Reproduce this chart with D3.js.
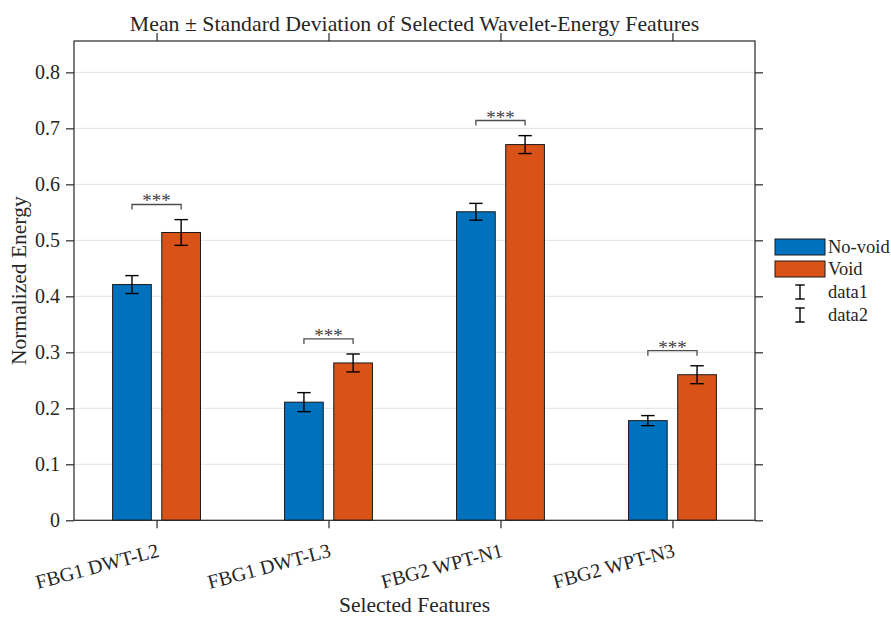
<!DOCTYPE html>
<html>
<head>
<meta charset="utf-8">
<script src="https://cdn.jsdelivr.net/npm/d3@7/dist/d3.min.js"></script>
<style>
  html, body { margin: 0; padding: 0; background: #fff; }
  svg { display: block; }
  text { font-family: "Liberation Serif", "Times New Roman", serif; fill: #262626; }
</style>
</head>
<body>
<svg id="chart" width="891" height="617"></svg>
<script>
// Feature groups and per-class statistics
const categories = ["FBG1 DWT-L2", "FBG1 DWT-L3", "FBG2 WPT-N1", "FBG2 WPT-N3"];
const seriesNames = ["No-void", "Void"];
const noVoidMean = [0.421, 0.211, 0.551, 0.178];
const noVoidStd  = [0.016, 0.017, 0.015, 0.009];
const voidMean   = [0.514, 0.281, 0.671, 0.260];
const voidStd    = [0.023, 0.016, 0.016, 0.016];
const significance = ["***", "***", "***", "***"];
const yTicks = [0, 0.1, 0.2, 0.3, 0.4, 0.5, 0.6, 0.7, 0.8];
const colors = ["#0072BD", "#D95319"];

const svg = d3.select("#chart");
const plotL = 74, plotR = 755, plotT = 41, plotB = 520.3;

const x = d3.scaleLinear().domain([0.52, 4.48]).range([plotL, plotR]);
const y = d3.scaleLinear().domain([0, 0.856]).range([plotB, plotT]);

const axisColor = "#262626";
const serif = "'Liberation Serif', 'Times New Roman', serif";

// horizontal grid
svg.append("g").selectAll("line")
  .data(yTicks.filter(d => d > 0))
  .join("line")
  .attr("x1", plotL).attr("x2", plotR)
  .attr("y1", d => y(d)).attr("y2", d => y(d))
  .attr("stroke", "#e3e3e3").attr("stroke-width", 1);

// bars
const groups = [noVoidMean, voidMean];
const stds = [noVoidStd, voidStd];
const offsets = [-0.143, 0.143];
const barW = 0.225;

groups.forEach((vals, s) => {
  svg.append("g").selectAll("rect")
    .data(vals)
    .join("rect")
    .attr("x", (d, i) => x(i + 1 + offsets[s] - barW / 2))
    .attr("width", x(barW) - x(0))
    .attr("y", d => y(d))
    .attr("height", d => y(0) - y(d))
    .attr("fill", colors[s])
    .attr("stroke", "#1a1a1a")
    .attr("stroke-width", 1);
});

// error bars
const cap = 6.7;
groups.forEach((vals, s) => {
  const g = svg.append("g").attr("stroke", "#000").attr("stroke-width", 1.4);
  vals.forEach((m, i) => {
    const cx = x(i + 1 + offsets[s]);
    const sd = stds[s][i];
    g.append("line").attr("x1", cx).attr("x2", cx).attr("y1", y(m - sd)).attr("y2", y(m + sd));
    g.append("line").attr("x1", cx - cap).attr("x2", cx + cap).attr("y1", y(m + sd)).attr("y2", y(m + sd));
    g.append("line").attr("x1", cx - cap).attr("x2", cx + cap).attr("y1", y(m - sd)).attr("y2", y(m - sd));
  });
});

// significance brackets
const sigG = svg.append("g");
categories.forEach((c, i) => {
  const topVal = Math.max(noVoidMean[i] + noVoidStd[i], voidMean[i] + voidStd[i]) + 0.027;
  const yb = y(topVal);
  const x1 = x(i + 1 + offsets[0]), x2 = x(i + 1 + offsets[1]);
  sigG.append("path")
    .attr("d", `M${x1},${yb + 5}V${yb}H${x2}V${yb + 5}`)
    .attr("fill", "none").attr("stroke", "#4d4d4d").attr("stroke-width", 1.3);
  sigG.append("text")
    .attr("x", (x1 + x2) / 2).attr("y", yb + 3)
    .attr("text-anchor", "middle")
    .attr("font-size", 19).style("fill", "#404040")
    .text(significance[i]);
});

// axes box
const box = svg.append("g").attr("stroke", axisColor).attr("stroke-width", 1.2).attr("fill", "none");
box.append("rect").attr("x", plotL).attr("y", plotT).attr("width", plotR - plotL).attr("height", plotB - plotT);

// y ticks (left, with labels) and right mirrored ticks
const yAxis = d3.axisLeft(y).tickValues(yTicks).tickSize(8).tickPadding(6).tickFormat(d3.format("~g"));
const yg = svg.append("g").attr("transform", `translate(${plotL},0)`).call(yAxis);
yg.attr("font-family", serif);
yg.select(".domain").remove();
yg.selectAll("line").attr("stroke", axisColor).attr("stroke-width", 1.2);
yg.selectAll("text").attr("font-size", 20).style("font-family", serif).style("fill", axisColor);

const yR = svg.append("g").attr("transform", `translate(${plotR},0)`)
  .call(d3.axisRight(y).tickValues(yTicks).tickSize(8).tickFormat(""));
yR.select(".domain").remove();
yR.selectAll("line").attr("stroke", axisColor).attr("stroke-width", 1.2);

// x ticks bottom (with rotated labels) and top mirrored ticks
const xAxis = d3.axisBottom(x).tickValues([1, 2, 3, 4]).tickSize(8).tickFormat((d) => categories[d - 1]);
const xg = svg.append("g").attr("transform", `translate(0,${plotB})`).call(xAxis);
xg.attr("font-family", serif);
xg.select(".domain").remove();
xg.selectAll("line").attr("stroke", axisColor).attr("stroke-width", 1.2);
xg.selectAll("text")
  .attr("font-size", 20).style("font-family", serif).style("fill", axisColor)
  .attr("text-anchor", "end")
  .attr("dy", null)
  .attr("y", 0)
  .attr("transform", "translate(3,36) rotate(-15)");

const xT = svg.append("g").attr("transform", `translate(0,${plotT})`)
  .call(d3.axisTop(x).tickValues([1, 2, 3, 4]).tickSize(8).tickFormat(""));
xT.select(".domain").remove();
xT.selectAll("line").attr("stroke", axisColor).attr("stroke-width", 1.2);

// titles
svg.append("text").attr("x", (plotL + plotR) / 2).attr("y", 31)
  .attr("text-anchor", "middle").attr("font-size", 21.8)
  .text("Mean \u00B1 Standard Deviation of Selected Wavelet-Energy Features");
svg.append("text").attr("x", (plotL + plotR) / 2).attr("y", 612)
  .attr("text-anchor", "middle").attr("font-size", 21.5)
  .text("Selected Features");
svg.append("text")
  .attr("transform", `translate(26,${(plotT + plotB) / 2}) rotate(-90)`)
  .attr("text-anchor", "middle").attr("font-size", 21.5)
  .text("Normalized Energy");

// legend
const lg = svg.append("g");
const legendRows = [
  { type: "patch", color: colors[0], label: seriesNames[0], cy: 247 },
  { type: "patch", color: colors[1], label: seriesNames[1], cy: 269 },
  { type: "err", label: "data1", cy: 292 },
  { type: "err", label: "data2", cy: 315 }
];
legendRows.forEach(r => {
  if (r.type === "patch") {
    lg.append("rect").attr("x", 775).attr("y", r.cy - 8).attr("width", 50).attr("height", 16)
      .attr("fill", r.color).attr("stroke", "#1a1a1a").attr("stroke-width", 1);
  } else {
    const cx = 800;
    const e = lg.append("g").attr("stroke", "#000").attr("stroke-width", 1.4);
    e.append("line").attr("x1", cx).attr("x2", cx).attr("y1", r.cy - 7).attr("y2", r.cy + 7);
    e.append("line").attr("x1", cx - 4.7).attr("x2", cx + 4.7).attr("y1", r.cy - 7).attr("y2", r.cy - 7);
    e.append("line").attr("x1", cx - 4.7).attr("x2", cx + 4.7).attr("y1", r.cy + 7).attr("y2", r.cy + 7);
  }
  lg.append("text").attr("x", 828).attr("y", r.cy + 6)
    .attr("font-size", 18.5).text(r.label);
});
</script>
</body>
</html>
